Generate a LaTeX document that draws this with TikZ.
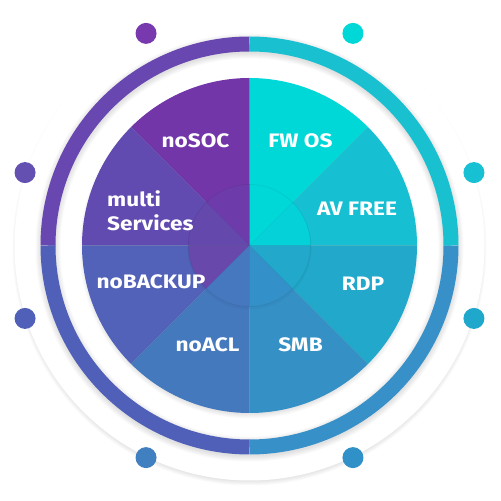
\documentclass[tikz,border=0pt]{standalone}
\usepackage{fontspec}
\setmainfont{Fira Sans}
\newfontfamily\lblfont{Fira Sans}[FakeStretch=1.16]
\usetikzlibrary{calc}
\definecolor{cSOC}{HTML}{7236A8}
\definecolor{cFW}{HTML}{00D8D8}
\definecolor{cAV}{HTML}{16C0D2}
\definecolor{cRDP}{HTML}{22A8CA}
\definecolor{cSMB}{HTML}{3590C6}
\definecolor{cACL}{HTML}{4579BE}
\definecolor{cBAK}{HTML}{5262B8}
\definecolor{cMUL}{HTML}{614AB0}
\definecolor{iSOC}{HTML}{6E3CAA}
\definecolor{iMUL}{HTML}{6548AC}
\definecolor{iBAK}{HTML}{6848AA}
\definecolor{iACL}{HTML}{4678C0}
\definecolor{iSMB}{HTML}{3490C8}
\definecolor{iRDP}{HTML}{22A8CA}
\definecolor{iAV}{HTML}{04D2D8}
\definecolor{iFW}{HTML}{00D8D8}
\definecolor{rTL}{HTML}{6848B0}
\definecolor{rTR}{HTML}{18C0D0}
\definecolor{rBL}{HTML}{5060B8}
\definecolor{rBR}{HTML}{3890C8}
\definecolor{dTL1}{HTML}{7838AE}
\definecolor{dTL2}{HTML}{6450B0}
\definecolor{dBL1}{HTML}{5060B8}
\definecolor{dBL2}{HTML}{4080C0}
\definecolor{dTR1}{HTML}{00D8D8}
\definecolor{dTR2}{HTML}{18C0D4}
\definecolor{dBR1}{HTML}{20A8CC}
\definecolor{dBR2}{HTML}{3090C8}
\begin{document}
\begin{tikzpicture}[x=1pt,y=1pt,
  lbl/.style={text=white,font=\lblfont\fontsize{19.5}{23}\selectfont\bfseries,inner sep=0pt},
  dot/.style={circle,minimum size=21pt,inner sep=0pt},
  ringseg/.style={line width=15pt}]
\useasboundingbox (0,0) rectangle (501,501);
\coordinate (C) at (249.5,255.5);
% outer shadow
\foreach \i in {0,...,9}{
  \fill[black,opacity=0.02] ([yshift=-3pt]C) circle[radius=228+\i];
}
\fill[white] (C) circle[radius=235];
% ring shadow
\foreach \i in {0,...,5}{
  \draw[black,opacity=0.018,line width=15pt+2*\i pt] ([yshift=-2pt]C) circle[radius=201.5];
}
% ring
\draw[ringseg,rTL] (C) ++(90:201.5) arc[start angle=90,end angle=180,radius=201.5];
\draw[ringseg,rBL] (C) ++(180:201.5) arc[start angle=180,end angle=270,radius=201.5];
\draw[ringseg,rBR] (C) ++(270:201.5) arc[start angle=270,end angle=360,radius=201.5];
\draw[ringseg,rTR] (C) ++(0:201.5) arc[start angle=0,end angle=90,radius=201.5];
% pie shadow
\foreach \i in {0,...,6}{
  \fill[black,opacity=0.02] ([yshift=-3pt]C) circle[radius=164+\i];
}
% sectors
\foreach \a/\c in {90/cSOC,135/cMUL,180/cBAK,225/cACL,270/cSMB,315/cRDP,0/cAV,45/cFW}{
  \fill[\c] (C) -- ++(\a:167.5) arc[start angle=\a,end angle=\a+45,radius=167.5] -- cycle;
}
% inner circle
\fill[black,opacity=0.03] ([yshift=-2pt]C) circle[radius=62];
\foreach \a/\c in {90/iSOC,135/iMUL,180/iBAK,225/iACL,270/iSMB,315/iRDP,0/iAV,45/iFW}{
  \fill[\c] (C) -- ++(\a:61) arc[start angle=\a,end angle=\a+45,radius=61] -- cycle;
}
\draw[black,opacity=0.06,line width=0.8pt] (C) circle[radius=61];
% faint boundaries
\foreach \a in {0,45,...,315}{
  \draw[black,opacity=0.05,line width=0.7pt] (C) -- ++(\a:167);
}
% dots
\node[dot,fill=dTL1] (d1) at ($(C)+(116:236)$) {};
\node[dot,fill=dTL2] (d2) at ($(C)+(162:236)$) {};
\node[dot,fill=dBL1] (d3) at ($(C)+(198:236)$) {};
\node[dot,fill=dBL2] (d4) at ($(C)+(244:236)$) {};
\node[dot,fill=dTR1] (d5) at ($(C)+(64:236)$) {};
\node[dot,fill=dTR2] (d6) at ($(C)+(18:236)$) {};
\node[dot,fill=dBR1] (d7) at ($(C)+(-18:236)$) {};
\node[dot,fill=dBR2] (d8) at ($(C)+(-64:236)$) {};
% labels (y = 501 - image y of baseline)
\node[lbl,anchor=base] (nosoc) at (195.5,353) {noSOC};
\node[lbl,anchor=base] (fwos) at (300.5,353) {FW OS};
\node[lbl,anchor=base] (avfree) at (357,285) {AV FREE};
\node[lbl,anchor=base] (rdp) at (363,210) {RDP};
\node[lbl,anchor=base] (smb) at (300.5,149) {SMB};
\node[lbl,anchor=base] (noacl) at (207.5,149) {noACL};
\node[lbl,anchor=base] (nobackup) at (151,212) {noBACKUP};
\node[lbl,anchor=base west] (multi) at (107,294) {multi};
\node[lbl,anchor=base west] (services) at (107,270) {Services};
\end{tikzpicture}
\end{document}
